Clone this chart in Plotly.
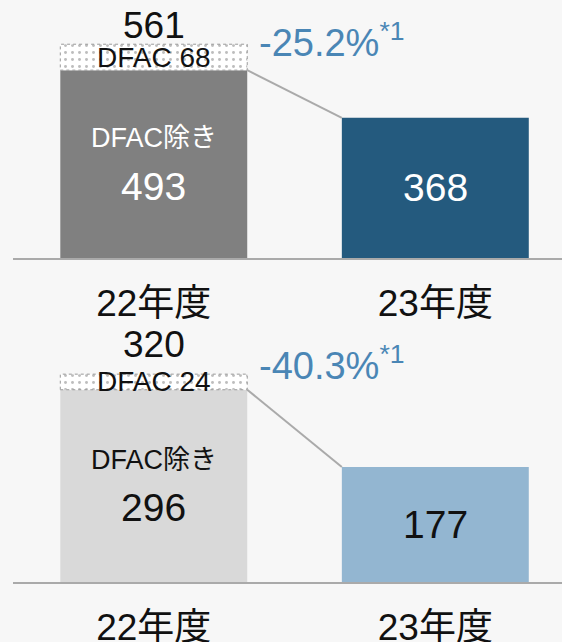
import plotly.graph_objects as go

# ---------------- data ----------------
categories = ["22年度", "23年度"]
excl_dfac_22 = [493, 296]      # top panel, bottom panel
dfac_22 = [68, 24]
total_22 = [561, 320]
value_23 = [368, 177]
change_pct = ["-25.2%", "-40.3%"]
note_mark = "*1"
inner_label = "DFAC除き"
dfac_label = "DFAC"

# ---------------- styles ----------------
BG = "#f7f7f7"
c22 = ["#808080", "#d9d9d9"]
c23 = ["#245a7e", "#93b6d1"]
txt_in22 = ["white", "#111111"]
txt_in23 = ["white", "#111111"]
PCT_COLOR = "#4a86b5"
LINE_GREY = "#aaaaaa"
FONT = "Liberation Sans, Noto Sans CJK JP, sans-serif"
BAR_W = 0.664

y_ranges = [[0, 677], [0, 388]]
y_domains = [[0.598, 1.0], [0.0935, 0.486]]
total_shift = [-4, 7]
pct_shift = [4, 11]

fig = go.Figure()
annotations = []

for p in range(2):
    xa = "x" if p == 0 else "x2"
    ya = "y" if p == 0 else "y2"
    excl, dfac, tot, v23 = excl_dfac_22[p], dfac_22[p], total_22[p], value_23[p]

    fig.add_trace(go.Bar(x=[0], y=[excl], width=BAR_W, marker=dict(color=c22[p], line=dict(width=0)),
                         xaxis=xa, yaxis=ya, showlegend=False, hoverinfo="skip"))
    fig.add_trace(go.Bar(x=[0], y=[dfac], base=[excl], width=BAR_W,
                         marker=dict(color="white", line=dict(width=0),
                                     pattern=dict(shape=".", size=7, solidity=0.14,
                                                  fgcolor="#bdbdbd", bgcolor="white", fillmode="replace")),
                         xaxis=xa, yaxis=ya, showlegend=False, hoverinfo="skip"))
    fig.add_trace(go.Bar(x=[1], y=[v23], width=BAR_W, marker=dict(color=c23[p], line=dict(width=0)),
                         xaxis=xa, yaxis=ya, showlegend=False, hoverinfo="skip"))
    # dashed outline of the DFAC segment
    fig.add_trace(go.Scatter(x=[-BAR_W / 2, BAR_W / 2, BAR_W / 2, -BAR_W / 2, -BAR_W / 2],
                             y=[excl, excl, tot, tot, excl], mode="lines",
                             line=dict(color="#9a9a9a", width=1, dash="dot"),
                             xaxis=xa, yaxis=ya, showlegend=False, hoverinfo="skip"))
    # connector
    fig.add_trace(go.Scatter(x=[BAR_W / 2, 1 - BAR_W / 2], y=[excl, v23], mode="lines",
                             line=dict(color=LINE_GREY, width=2),
                             xaxis=xa, yaxis=ya, showlegend=False, hoverinfo="skip"))

    annotations += [
        dict(x=0, y=tot, xref=xa, yref=ya, text=str(tot), showarrow=False, yanchor="bottom",
             yshift=total_shift[p], font=dict(size=37, color="#111111", family=FONT)),
        dict(x=0, y=excl + dfac / 2, xref=xa, yref=ya, text=f"{dfac_label} {dfac}", showarrow=False,
             font=dict(size=28, color="#111111", family=FONT)),
        dict(x=0, y=excl / 2, xref=xa, yref=ya, text=inner_label, showarrow=False, yshift=26,
             font=dict(size=27, color=txt_in22[p], family=FONT)),
        dict(x=0, y=excl / 2, xref=xa, yref=ya, text=str(excl), showarrow=False, yshift=-22,
             font=dict(size=39, color=txt_in22[p], family=FONT)),
        dict(x=1, y=v23 / 2, xref=xa, yref=ya, text=str(v23), showarrow=False,
             font=dict(size=39, color=txt_in23[p], family=FONT)),
        dict(x=0.368, y=tot, xref=xa, yref=ya, text=f"{change_pct[p]}<sup>{note_mark}</sup>",
             showarrow=False, xanchor="left", yshift=pct_shift[p],
             font=dict(size=38, color=PCT_COLOR, family=FONT)),
    ]

xaxis_common = dict(range=[-0.5, 1.45], tickmode="array", tickvals=[0, 1], ticktext=categories,
                    showgrid=False, zeroline=False, showline=True, linecolor=LINE_GREY, linewidth=2,
                    ticks="", ticklabelstandoff=12, tickfont=dict(size=37, color="#111111", family=FONT),
                    fixedrange=True, automargin=False)
yaxis_common = dict(showgrid=False, zeroline=False, showline=False, showticklabels=False, ticks="",
                    fixedrange=True, automargin=False)

fig.update_layout(
    width=562, height=642,
    margin=dict(l=13, r=0, t=0, b=0, pad=0),
    paper_bgcolor=BG, plot_bgcolor=BG,
    barmode="overlay",
    showlegend=False,
    font=dict(family=FONT),
    xaxis=dict(**xaxis_common, anchor="y", domain=[0, 1]),
    yaxis=dict(**yaxis_common, range=y_ranges[0], domain=y_domains[0], anchor="x"),
    xaxis2=dict(**xaxis_common, anchor="y2", domain=[0, 1]),
    yaxis2=dict(**yaxis_common, range=y_ranges[1], domain=y_domains[1], anchor="x2"),
    annotations=annotations,
)

fig.write_html("out.html", config={"displayModeBar": False},
               post_script="document.body.style.margin='0';document.body.style.overflow='hidden';"
                           "document.body.style.background='" + BG + "';")
